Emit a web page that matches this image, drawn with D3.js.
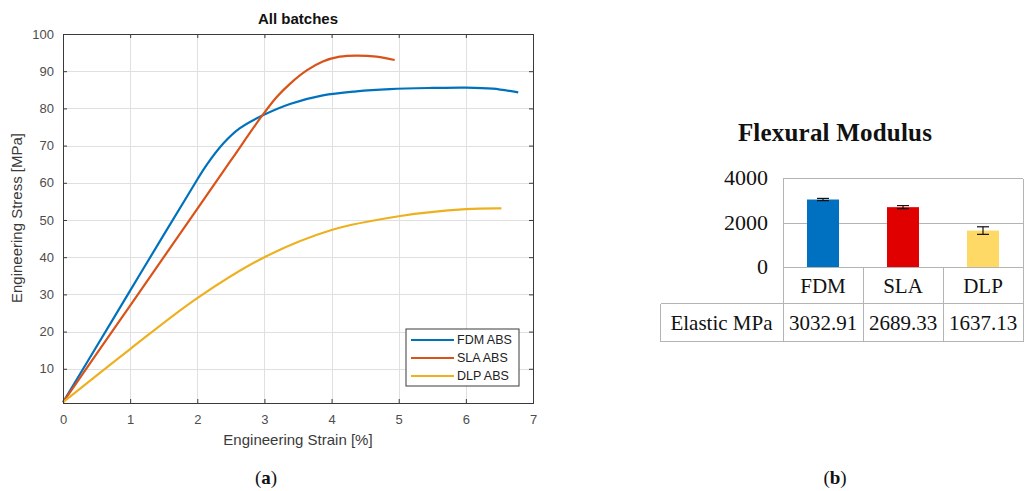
<!DOCTYPE html>
<head>
  <meta charset="utf-8">
  <script src="https://d3js.org/d3.v7.min.js"></script>
  <style>
body { margin:0; background:#fff; }
text { font-family: "Liberation Sans", Arial, sans-serif; }
.serif { font-family: "Liberation Serif", "Times New Roman", serif; fill:#111; }
.tick-lab { fill:#4d4d4d; font-size:13px; }
.grid { stroke:#e0e0e0; stroke-width:1; shape-rendering:crispEdges; }
.frame { fill:none; stroke:#3a3a3a; stroke-width:1.2; shape-rendering:crispEdges; }
.curve { fill:none; stroke-width:2.2; }
.cell { stroke:#b4b4b4; stroke-width:1; shape-rendering:crispEdges; }
  </style>
</head>
<body>
<script>
// (a) stress-strain curves
const fdmStrain = [0, 0.5, 1, 1.5, 1.89, 2.14, 2.39, 2.63, 2.96, 3.38, 3.87, 4.37, 4.87, 5.5, 6, 6.4, 6.78]
const fdmStress = [1, 16, 31, 46, 57.6, 64.8, 70.6, 74.6, 78, 81.2, 83.5, 84.6, 85.2, 85.5, 85.6, 85.3, 84.3]
const slaStrain = [0, 1, 2, 2.5, 2.96, 3.18, 3.38, 3.63, 3.87, 4.12, 4.37, 4.67, 4.94]
const slaStress = [1, 27, 53, 66, 77.9, 83, 86.6, 90.2, 92.6, 93.9, 94.2, 93.9, 93]
const dlpStrain = [0, 1, 2, 3, 4, 5, 6, 6.53]
const dlpStress = [1, 15.3, 29, 40, 47.3, 51, 52.9, 53.1]
const seriesNames = ['FDM ABS', 'SLA ABS', 'DLP ABS']
const xTicks = [0, 1, 2, 3, 4, 5, 6, 7]
const yTicks = [10, 20, 30, 40, 50, 60, 70, 80, 90, 100]

// (b) flexural modulus
const methods = ['FDM', 'SLA', 'DLP']
const modulus = [3032.91, 2689.33, 1637.13]
const modulusErr = [50, 70, 170]
const modTicks = [0, 2000, 4000]

const W = 1024, H = 491
const svg = d3.select('body').append('svg').attr('width', W).attr('height', H)

// ---------- left panel ----------
const x = d3.scaleLinear().domain([0, 7]).range([63, 533])
const y = d3.scaleLinear().domain([0.8, 100]).range([403, 34])
const colors = ['#0072BD', '#D95319', '#EDB120']

const a = svg.append('g')

a.selectAll('.gx').data(xTicks).enter().append('line')
  .attr('class', 'grid')
  .attr('x1', d => Math.round(x(d)) + 0.5).attr('x2', d => Math.round(x(d)) + 0.5)
  .attr('y1', y.range()[0]).attr('y2', y.range()[1])
a.selectAll('.gy').data(yTicks).enter().append('line')
  .attr('class', 'grid')
  .attr('y1', d => Math.round(y(d)) + 0.5).attr('y2', d => Math.round(y(d)) + 0.5)
  .attr('x1', x.range()[0]).attr('x2', x.range()[1])

const series = [
  d3.zip(fdmStrain, fdmStress),
  d3.zip(slaStrain, slaStress),
  d3.zip(dlpStrain, dlpStress)
]
const line = d3.line().x(d => x(d[0])).y(d => y(d[1])).curve(d3.curveCatmullRom.alpha(0.5))

a.selectAll('.curve').data(series).enter().append('path')
  .attr('class', 'curve')
  .attr('stroke', (d, i) => colors[i])
  .attr('d', line)

// axes frame with inward ticks, matlab style
const fmt = d3.format('d')
const xAxisB = d3.axisBottom(x).tickValues(xTicks).tickFormat(fmt).tickSizeInner(-4).tickSizeOuter(0).tickPadding(12)
const xAxisT = d3.axisTop(x).tickValues(xTicks).tickSizeInner(-4).tickSizeOuter(0).tickFormat('')
const yAxisL = d3.axisLeft(y).tickValues(yTicks).tickFormat(fmt).tickSizeInner(-4).tickSizeOuter(0).tickPadding(9)
const yAxisR = d3.axisRight(y).tickValues(yTicks).tickSizeInner(-4).tickSizeOuter(0).tickFormat('')

function styleAxis(g) {
  g.select('.domain').remove()
  g.selectAll('line').attr('stroke', '#3a3a3a')
  g.selectAll('text').attr('class', 'tick-lab').attr('font-family', null).attr('font-size', null)
}
a.append('g').attr('transform', `translate(0,${y.range()[0]})`).call(xAxisB).call(styleAxis)
a.append('g').attr('transform', `translate(0,${y.range()[1]})`).call(xAxisT).call(styleAxis)
a.append('g').attr('transform', `translate(${x.range()[0]},0)`).call(yAxisL).call(styleAxis)
a.append('g').attr('transform', `translate(${x.range()[1]},0)`).call(yAxisR).call(styleAxis)

a.append('rect').attr('class', 'frame')
  .attr('x', x.range()[0] + 0.5).attr('y', y.range()[1] + 0.5)
  .attr('width', x.range()[1] - x.range()[0]).attr('height', y.range()[0] - y.range()[1])

a.append('text').text('All batches')
  .attr('x', 298).attr('y', 24).attr('text-anchor', 'middle')
  .attr('font-weight', 'bold').attr('font-size', '15px').attr('fill', '#111')
a.append('text').text('Engineering Strain [%]')
  .attr('x', 298).attr('y', 445).attr('text-anchor', 'middle')
  .attr('font-size', '15px').attr('fill', '#3a3a3a')
a.append('text').text('Engineering Stress [MPa]')
  .attr('transform', 'translate(22,218) rotate(-90)').attr('text-anchor', 'middle')
  .attr('font-size', '15px').attr('fill', '#3a3a3a')

// legend
const lg = a.append('g').attr('transform', 'translate(406,329)')
lg.append('rect').attr('width', 113).attr('height', 57)
  .attr('fill', '#fff').attr('stroke', '#3a3a3a').attr('stroke-width', 1)
lg.selectAll('.item').data(seriesNames).enter().append('g')
  .attr('transform', (d, i) => `translate(0,${11 + i * 18})`)
  .each(function (d, i) {
    const gi = d3.select(this)
    gi.append('line').attr('x1', 5).attr('x2', 48).attr('stroke', colors[i]).attr('stroke-width', 2.2)
    gi.append('text').text(d).attr('x', 51).attr('dy', '0.35em')
      .attr('font-size', '12.5px').attr('fill', '#222')
  })

a.append('text').attr('class', 'serif').attr('x', 266).attr('y', 484)
  .attr('text-anchor', 'middle').attr('font-size', '19px')
  .html('(<tspan font-weight="bold">a</tspan>)')

// ---------- right panel ----------
const bx = d3.scaleBand().domain(methods).range([783, 1023])
const by = d3.scaleLinear().domain([0, 4000]).range([267, 178])
const barColors = ['#0070C0', '#E00000', '#FFD966']
const b = svg.append('g')

b.append('text').attr('class', 'serif').text('Flexural Modulus')
  .attr('x', 835).attr('y', 141).attr('text-anchor', 'middle')
  .attr('font-size', '25px').attr('font-weight', 'bold').attr('letter-spacing', '0.2px')

b.selectAll('.bg').data(modTicks).enter().append('line')
  .attr('class', 'cell')
  .attr('x1', bx.range()[0]).attr('x2', bx.range()[1])
  .attr('y1', d => Math.round(by(d)) + 0.5).attr('y2', d => Math.round(by(d)) + 0.5)

const bAxis = d3.axisLeft(by).tickValues(modTicks).tickFormat(fmt).tickSize(0).tickPadding(15)
b.append('g').attr('transform', `translate(${bx.range()[0]},0)`).call(bAxis)
  .call(g => g.select('.domain').remove())
  .call(g => g.selectAll('text').attr('class', 'serif').attr('font-family', null)
    .attr('font-size', '22px').attr('dy', '0.3em'))

const bw = bx.bandwidth() * 0.4
b.selectAll('.bar').data(modulus).enter().append('rect')
  .attr('x', (d, i) => bx(methods[i]) + (bx.bandwidth() - bw) / 2)
  .attr('width', bw)
  .attr('y', d => by(d)).attr('height', d => by(0) - by(d))
  .attr('fill', (d, i) => barColors[i])

const eb = b.selectAll('.err').data(modulus).enter().append('g')
  .attr('transform', (d, i) => `translate(${bx(methods[i]) + bx.bandwidth() / 2},0)`)
eb.append('line').attr('y1', (d, i) => by(d - modulusErr[i])).attr('y2', (d, i) => by(d + modulusErr[i]))
  .attr('stroke', '#111').attr('stroke-width', 1.2)
eb.append('line').attr('x1', -6).attr('x2', 6)
  .attr('y1', (d, i) => by(d - modulusErr[i])).attr('y2', (d, i) => by(d - modulusErr[i]))
  .attr('stroke', '#111').attr('stroke-width', 1.2)
eb.append('line').attr('x1', -6).attr('x2', 6)
  .attr('y1', (d, i) => by(d + modulusErr[i])).attr('y2', (d, i) => by(d + modulusErr[i]))
  .attr('stroke', '#111').attr('stroke-width', 1.2)

// data table under the bars
const rowTop = 267, rowMid = 303, rowBot = 341, tableLeft = 660
const cellLines = [
  [bx.range()[0], 178, bx.range()[0], rowBot],
  [bx.range()[1], 178, bx.range()[1], rowBot],
  [tableLeft, rowMid, bx.range()[1], rowMid],
  [tableLeft, rowBot, bx.range()[1], rowBot],
  [tableLeft, rowMid, tableLeft, rowBot]
]
methods.slice(1).forEach(m => cellLines.push([bx(m), rowTop, bx(m), rowBot]))
b.selectAll('.tl').data(cellLines).enter().append('line')
  .attr('class', 'cell')
  .attr('x1', d => Math.round(d[0]) + 0.5).attr('x2', d => Math.round(d[2]) + 0.5)
  .attr('y1', d => Math.round(d[1]) + 0.5).attr('y2', d => Math.round(d[3]) + 0.5)

b.selectAll('.cat').data(methods).enter().append('text')
  .attr('class', 'serif').text(d => d)
  .attr('x', d => bx(d) + bx.bandwidth() / 2).attr('y', (rowTop + rowMid) / 2)
  .attr('dy', '0.36em').attr('text-anchor', 'middle').attr('font-size', '21px')
b.selectAll('.val').data(modulus).enter().append('text')
  .attr('class', 'serif').text(d => d.toFixed(2))
  .attr('x', (d, i) => bx(methods[i]) + bx.bandwidth() / 2).attr('y', (rowMid + rowBot) / 2)
  .attr('dy', '0.36em').attr('text-anchor', 'middle').attr('font-size', '21px')
b.append('text').attr('class', 'serif').text('Elastic MPa')
  .attr('x', (tableLeft + bx.range()[0]) / 2).attr('y', (rowMid + rowBot) / 2)
  .attr('dy', '0.36em').attr('text-anchor', 'middle').attr('font-size', '21px')

b.append('text').attr('class', 'serif').attr('x', 835).attr('y', 484)
  .attr('text-anchor', 'middle').attr('font-size', '19px')
  .html('(<tspan font-weight="bold">b</tspan>)')
</script>
</body>
